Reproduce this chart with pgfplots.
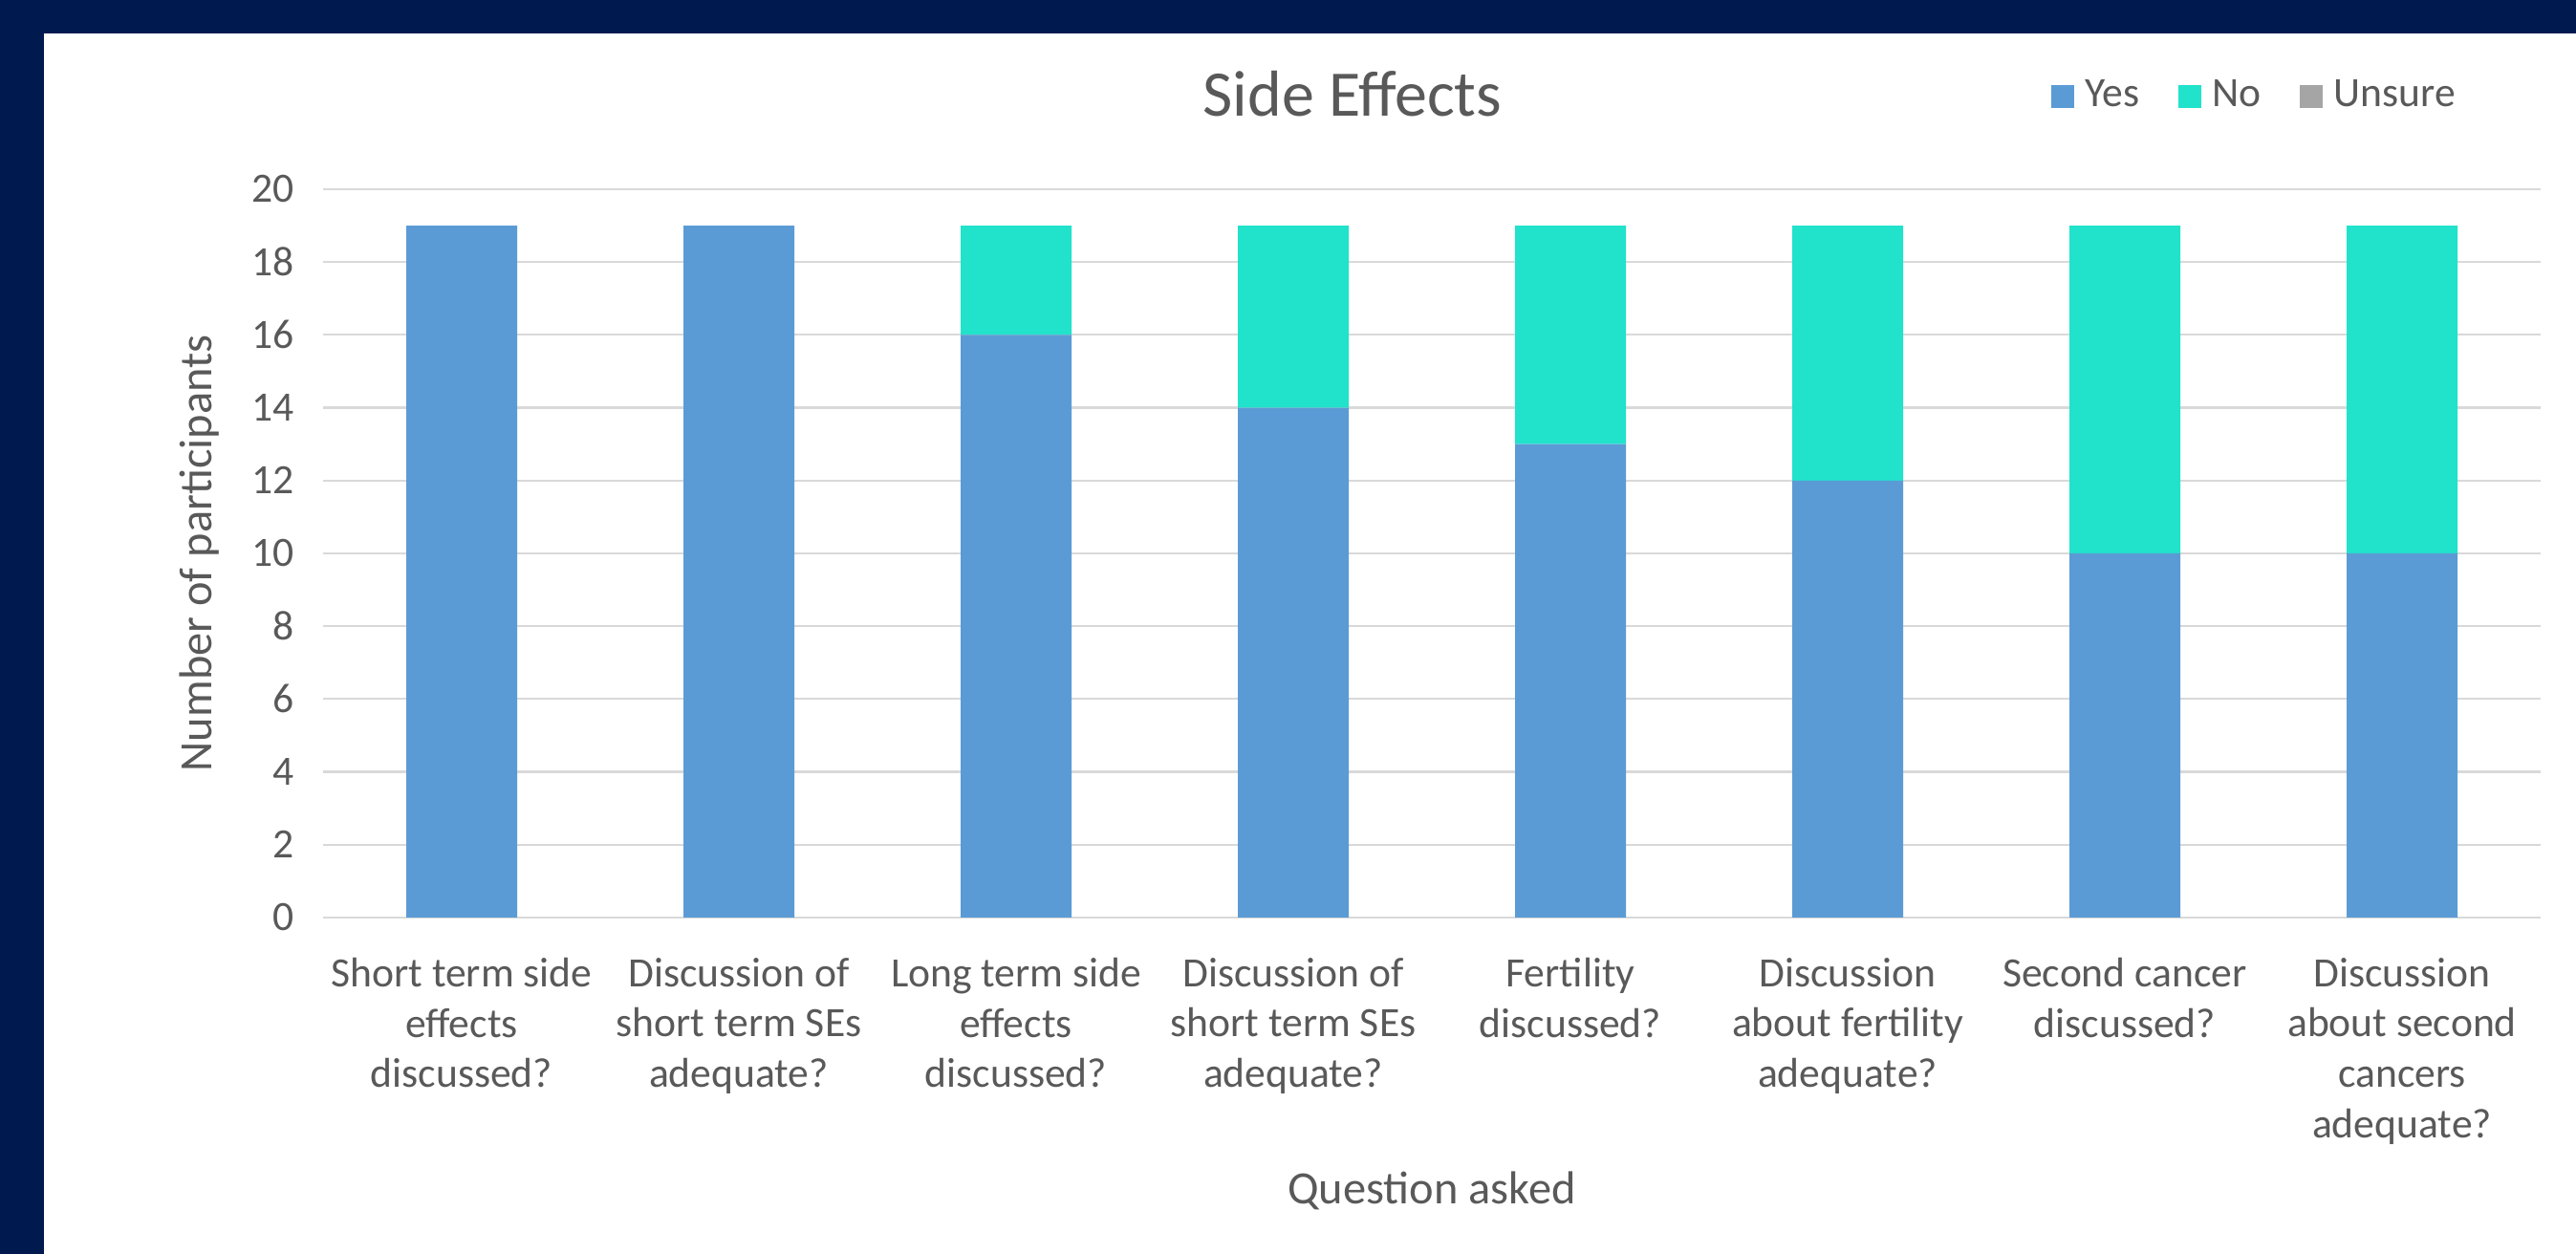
\documentclass[border=0pt]{standalone}
\usepackage{pgfplots}
\pgfplotsset{compat=1.18}
\usepackage{fontspec}
\setmainfont{Carlito}
\definecolor{navy}{RGB}{0,26,80}
\definecolor{yescol}{RGB}{91,155,213}
\definecolor{nocol}{RGB}{33,226,203}
\definecolor{unsurecol}{RGB}{165,165,165}
\definecolor{gridcol}{RGB}{217,217,217}
\definecolor{txt}{RGB}{89,89,89}
\begin{document}
\begin{tikzpicture}
\fill[navy] (0,0) rectangle (673.75pt,328pt);
\fill[white] (11.5pt,0) rectangle (673.75pt,319.25pt);
\begin{axis}[
  at={(84.5pt,88pt)}, anchor=south west,
  scale only axis,
  width=580pt, height=190.5pt,
  ybar stacked,
  bar width=29pt,
  xmin=-0.5, xmax=7.5,
  ymin=0, ymax=20,
  ytick={0,2,...,20},
  xtick=data,
  xticklabels={{Short term side\\effects\\discussed?},{Discussion of\\short term SEs\\adequate?},{Long term side\\effects\\discussed?},{Discussion of\\short term SEs\\adequate?},{Fertility\\discussed?},{Discussion\\about fertility\\adequate?},{Second cancer\\discussed?},{Discussion\\about second\\cancers\\adequate?}},
  xticklabel style={align=center, font=\fontsize{10.9}{13.2}\selectfont, text=txt, yshift=-7pt},
  yticklabel style={font=\fontsize{10.9}{13.2}\selectfont, text=txt, xshift=-4pt},
  /pgf/number format/assume math mode=true,
  major tick length=0pt,
  axis line style={draw=none},
  ymajorgrids=true,
  grid style={gridcol, line width=0.55pt},
  every axis title shift=0pt,
  title={Side Effects},
  title style={font=\fontsize{17}{20}\selectfont, text=txt, at={(axis description cs:0.4642,1.1312)}, anchor=center},
  xlabel={Question asked},
  xlabel style={font=\fontsize{12.1}{14}\selectfont, text=txt, at={(axis description cs:0.5,-0.375)}, anchor=center},
  ylabel={Number of participants},
  ylabel style={font=\fontsize{12.1}{14}\selectfont, text=txt, at={(axis description cs:-0.0556,0.5)}, anchor=center},
  legend style={at={(axis description cs:0.7737,1.1273)}, anchor=west, draw=none, fill=none, legend columns=3, font=\fontsize{10.9}{13}\selectfont, text=txt, /tikz/every even column/.append style={column sep=8pt}, /tikz/every odd column/.append style={column sep=1pt}},
  legend image code/.code={\fill[#1] (0pt,-3pt) rectangle (6pt,3pt);},
  clip=false,
]
\addplot[fill=yescol, draw=none] coordinates {(0,19) (1,19) (2,16) (3,14) (4,13) (5,12) (6,10) (7,10)};
\addplot[fill=nocol, draw=none] coordinates {(0,0) (1,0) (2,3) (3,5) (4,6) (5,7) (6,9) (7,9)};
\addplot[fill=unsurecol, draw=none] coordinates {(0,0) (1,0) (2,0) (3,0) (4,0) (5,0) (6,0) (7,0)};
\legend{Yes,No,Unsure}
\end{axis}
\pgfresetboundingbox
\useasboundingbox (0,0) rectangle (673.75pt,328pt);
\end{tikzpicture}
\end{document}
